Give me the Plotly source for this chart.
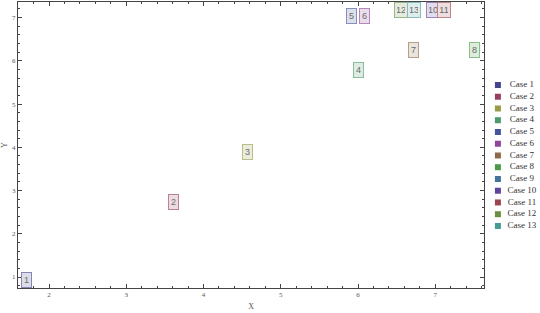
import plotly.graph_objects as go

cases = ["Case 1", "Case 2", "Case 3", "Case 4", "Case 5", "Case 6", "Case 7",
         "Case 8", "Case 9", "Case 10", "Case 11", "Case 12", "Case 13"]
labels = ["1", "2", "3", "4", "5", "6", "7", "8", "9", "10", "11", "12", "13"]
x_vals = [1.71, 3.61, 4.57, 6.01, 5.92, 6.09, 6.72, 7.51, 6.95, 6.97, 7.11, 6.55, 6.72]
y_vals = [0.93, 2.74, 3.90, 5.79, 7.04, 7.04, 6.26, 6.26, 7.18, 7.18, 7.18, 7.18, 7.18]
colors = ["#45458f", "#9a3d63", "#9a9a45", "#4a9a6a", "#44559a", "#8f459a", "#8f6a4a",
          "#4a9a4a", "#45739a", "#62459a", "#9a454f", "#6a8f45", "#459a96"]


def mix(hexc, t):
    r, g, b = int(hexc[1:3], 16), int(hexc[3:5], 16), int(hexc[5:7], 16)
    r, g, b = [int(c + (255 - c) * t) for c in (r, g, b)]
    return f"rgb({r},{g},{b})"


fig = go.Figure()
for i, name in enumerate(cases):
    fig.add_trace(go.Scatter(
        x=[x_vals[i]], y=[y_vals[i]], mode="markers", name=name, showlegend=False,
        marker=dict(symbol="square", size=4, color=mix(colors[i], 0.82)),
        hoverinfo="skip"))
    w = 5 if len(labels[i]) == 1 else 8
    fig.add_annotation(
        x=x_vals[i], y=y_vals[i], xref="x", yref="y", text=labels[i],
        showarrow=False, xanchor="center", yanchor="middle",
        width=w, height=10,
        font=dict(family="Liberation Sans", size=9, color="#6a6a6a"),
        bgcolor=mix(colors[i], 0.82), bordercolor=mix(colors[i], 0.35),
        borderwidth=1, borderpad=2)

# legend drawn on its own small axis
leg_y = [-i for i in range(len(cases))]
fig.add_trace(go.Scatter(
    x=[0] * len(cases), y=leg_y, xaxis="x2", yaxis="y2", mode="markers",
    marker=dict(symbol="square", size=6, color=colors), showlegend=False,
    hoverinfo="skip"))
fig.add_trace(go.Scatter(
    x=[0.48] * len(cases), y=leg_y, xaxis="x2", yaxis="y2", mode="text",
    text=cases, textposition="middle center",
    textfont=dict(family="Liberation Serif", size=9, color="#333333"),
    showlegend=False, hoverinfo="skip"))

axis_common = dict(
    showgrid=False, zeroline=False, showline=True, linecolor="#444444",
    linewidth=1, mirror="ticks", ticks="inside", ticklen=4, tickcolor="#444444",
    tickfont=dict(family="Liberation Serif", size=7, color="#555555"),
    dtick=1,
    minor=dict(ticks="inside", ticklen=2, dtick=0.2, tickcolor="#444444"))

fig.update_layout(
    width=540, height=313,
    margin=dict(l=18, r=0, t=2, b=25),
    paper_bgcolor="white", plot_bgcolor="white",
    showlegend=False,
    xaxis=dict(domain=[0, 0.8933], range=[1.598, 7.635], tick0=1,
               title=dict(text="X", font=dict(family="Liberation Serif", size=8, color="#555555"),
                          standoff=4),
               **axis_common),
    yaxis=dict(range=[0.746, 7.36], tick0=1,
               title=dict(text="Y", font=dict(family="Liberation Serif", size=8, color="#555555"),
                          standoff=4),
               **axis_common),
    xaxis2=dict(domain=[0.904, 1.0], range=[-0.16, 0.84], visible=False,
                anchor="y2"),
    yaxis2=dict(domain=[0, 1], range=[-17.28, 7.064], visible=False,
                anchor="x2"),
)

fig.write_html("out.html")
